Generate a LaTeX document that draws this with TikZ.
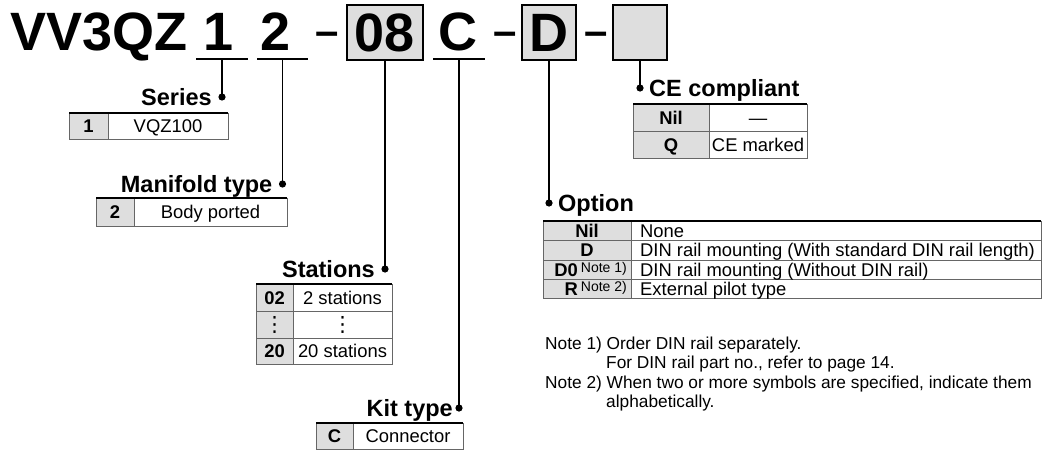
\documentclass[tikz,border=0pt]{standalone}
\usepackage{fontspec}
\setmainfont{Liberation Sans}
\newfontfamily\symfont{DejaVu Sans}
\usetikzlibrary{positioning}
\definecolor{keygray}{gray}{0.87}
\definecolor{rulegray}{gray}{0.4}
\tikzset{
  code/.style={font=\fontsize{54}{54}\selectfont\bfseries, inner sep=0pt, text height=38.7pt, text depth=0pt},
  codebox/.style={code, draw, line width=1.5pt, fill=keygray, minimum height=55pt},
  sepdash/.style={font=\fontsize{42}{42}\selectfont\bfseries, inner sep=0pt, anchor=base},
  hdg/.style={font=\fontsize{23.5}{23.5}\selectfont\bfseries, inner sep=0pt, text height=16.8pt, text depth=0pt},
  cell/.style={font=\fontsize{18.4}{18.4}\selectfont, inner sep=0pt, text height=13.2pt, text depth=0pt},
  keycell/.style={cell, font=\fontsize{18.4}{18.4}\selectfont\bfseries},
  dotcell/.style={font=\fontsize{21}{21}\selectfont\symfont, inner sep=0pt},
  note/.style={font=\fontsize{17.3}{19.5}\selectfont, inner sep=0pt, anchor=base west},
  conn/.style={line width=1.5pt},
  tabrule/.style={rulegray, line width=1pt},
  tabtop/.style={line width=2pt},
}
\newcommand{\noteref}[1]{\raisebox{4pt}{\fontsize{14}{14}\selectfont\mdseries Note #1)}}
\begin{document}
\begin{tikzpicture}[x=1pt, y=-1pt]
  \useasboundingbox (0,0) rectangle (1044,450);

  % part number
  \node[code, anchor=base west] (vv) at (10,50) {VV3QZ};
  \node[code] (k1) at (219,31) {1};
  \node[code] (k2) at (276,31) {2};
  \node[sepdash] (m1) at (327.5,45) {–};
  \node[codebox, minimum width=76pt] (k08) at (385,32.5) {08};
  \node[code] (kc) at (458,31) {C};
  \node[sepdash] (m2) at (505,45) {–};
  \node[codebox, minimum width=54pt] (kd) at (549,32.5) {D};
  \node[sepdash] (m3) at (596,45) {–};
  \node[codebox, minimum width=54pt] (kce) at (640,32.5) {};
  \draw[conn] (196,59) -- coordinate (u1) (248,59);
  \draw[conn] (257,59) -- coordinate (u2) (308,59);
  \draw[conn] (433,59) -- coordinate (uc) (485,59);

  \coordinate (dser) at (222,97);
  \coordinate (dman) at (282.5,184);
  \coordinate (dsta) at (385,269);
  \coordinate (dkit) at (459,408);
  \coordinate (dopt) at (549,203);
  \coordinate (dce) at (640,88);
  \foreach \a/\b in {u1/dser, u2/dman, k08.south/dsta, uc/dkit, kd.south/dopt, kce.south/dce} {
    \draw[conn] (\a) -- (\a |- \b);
    \fill (\b) circle (3.6pt);
  }

  \node[hdg, left=10pt of dser] (hser) {Series};
  \node[hdg, left=10pt of dman] (hman) {Manifold type};
  \node[hdg, left=10pt of dsta] (hsta) {Stations};
  \node[hdg, left=6pt of dkit] (hkit) {Kit type};
  \node[hdg, right=9pt of dopt] (hopt) {Option};
  \node[hdg, right=9pt of dce] (hce) {CE compliant};

  % series
  \fill[keygray] (69,113) rectangle (108,139);
  \draw[tabrule] (69,113) rectangle (228,139) (108,113) -- (108,139);
  \draw[tabtop] (69,113) -- (228,113);
  \node[keycell] (s1) at (88.5,126) {1};
  \node[cell] (s1v) at (168,126) {VQZ100};

  % manifold type
  \fill[keygray] (96,198) rectangle (134,226);
  \draw[tabrule] (96,198) rectangle (287,226) (134,198) -- (134,226);
  \draw[tabtop] (96,198) -- (287,198);
  \node[keycell] (m2k) at (115,212) {2};
  \node[cell] (m2v) at (210.5,212) {Body ported};

  % stations
  \fill[keygray] (256,284) rectangle (293,364);
  \draw[tabrule] (256,284) rectangle (392,364) (293,284) -- (293,364)
    (256,311) -- (392,311) (256,338) -- (392,338);
  \draw[tabtop] (256,284) -- (392,284);
  \node[keycell] (st1) at (274.5,297.5) {02};
  \node[cell] (st1v) at (342.5,297.5) {2 stations};
  \node[dotcell] (st2) at (274.5,324.5) {⋮};
  \node[dotcell] (st2v) at (342.5,324.5) {⋮};
  \node[keycell] (st3) at (274.5,351) {20};
  \node[cell] (st3v) at (342.5,351) {20 stations};

  % kit type
  \fill[keygray] (316,423) rectangle (353,449);
  \draw[tabrule] (316,423) rectangle (463,449) (353,423) -- (353,449);
  \draw[tabtop] (316,423) -- (463,423);
  \node[keycell] (kt) at (334.5,436) {C};
  \node[cell] (ktv) at (408,436) {Connector};

  % CE compliant
  \fill[keygray] (633,104) rectangle (709,158);
  \draw[tabrule] (633,104) rectangle (807,158) (709,104) -- (709,158) (633,131) -- (807,131);
  \draw[tabtop] (633,104) -- (807,104);
  \node[keycell] (ce1) at (671,117.5) {Nil};
  \node[cell] (ce1v) at (758,117.5) {—};
  \node[keycell] (ce2) at (671,144.5) {Q};
  \node[cell] (ce2v) at (758,144.5) {CE marked};

  % option
  \fill[keygray] (543,221) rectangle (631,298.5);
  \draw[tabrule] (543,221) rectangle (1041,298.5) (631,221) -- (631,298.5)
    (543,240.5) -- (1041,240.5) (543,260) -- (1041,260) (543,279) -- (1041,279);
  \draw[tabtop] (543,221) -- (1041,221);
  \node[keycell] (o1) at (587,230.75) {Nil};
  \node[cell, anchor=west] (o1v) at (640,230.75) {None};
  \node[keycell] (o2) at (587,250.25) {D};
  \node[cell, anchor=west] (o2v) at (640,250.25) {DIN rail mounting (With standard DIN rail length)};
  \node[keycell, anchor=east] (o3) at (627,269.5) {D0\,\noteref{1}};
  \node[cell, anchor=west] (o3v) at (640,269.5) {DIN rail mounting (Without DIN rail)};
  \node[keycell, anchor=east] (o4) at (627,288.75) {R\,\noteref{2}};
  \node[cell, anchor=west] (o4v) at (640,288.75) {External pilot type};

  \node[note] (n1) at (545,349) {Note 1) Order DIN rail separately.};
  \node[note] (n1b) at (606,368.5) {For DIN rail part no., refer to page 14.};
  \node[note] (n2) at (545,388) {Note 2) When two or more symbols are specified, indicate them};
  \node[note] (n2b) at (606,407.5) {alphabetically.};
\end{tikzpicture}
\end{document}
